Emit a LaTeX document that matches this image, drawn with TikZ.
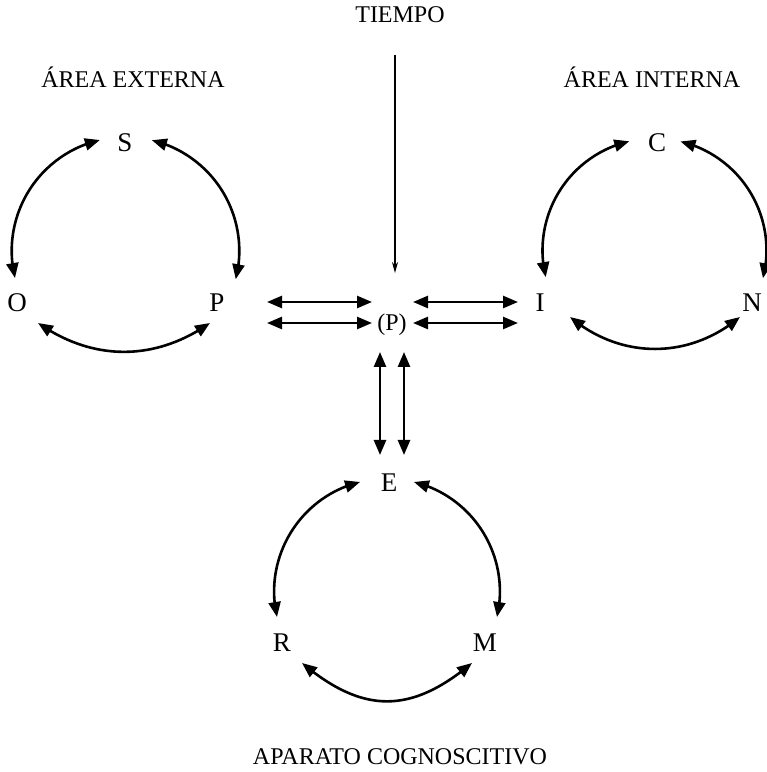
\documentclass[tikz,border=0pt]{standalone}
\usepackage{fontspec}
\setmainfont{Liberation Serif}
\usetikzlibrary{arrows.meta,bending}
\begin{document}
\begin{tikzpicture}[x=1pt,y=1pt,
  lbl/.style={font=\fontsize{24}{28}\selectfont, anchor=base, inner sep=0pt},
  ltr/.style={font=\fontsize{27}{31}\selectfont, inner sep=0pt},
  arr/.style={line width=2.6pt, {Triangle[length=15pt,width=12pt]}-{Triangle[length=15pt,width=12pt]}},
  tarr/.style={line width=1.5pt, -{Stealth[length=11pt,width=6pt]}}]
\useasboundingbox (0,0) rectangle (767,772);
% labels
\node[lbl] (tiempo) at (400,749) {TIEMPO};
\node[lbl] (ext) at (133,684) {ÁREA EXTERNA};
\node[lbl] (int) at (652,684) {ÁREA INTERNA};
\node[lbl] (apa) at (400,7) {APARATO COGNOSCITIVO};
% letters
\node[ltr] (S) at (125,629) {S};
\node[ltr] (O) at (17,469) {O};
\node[ltr] (P) at (217,469) {P};
\node[ltr] (C) at (657,629.5) {C};
\node[ltr] (I) at (540,469) {I};
\node[ltr] (N) at (752,469) {N};
\node[ltr] (E) at (389,289) {E};
\node[ltr] (R) at (282,129.5) {R};
\node[ltr] (M) at (485,129.5) {M};
\node[font=\fontsize{24}{28}\selectfont, anchor=base, inner sep=0pt] (Pc) at (392,441) {(P)};
% circle centres
\coordinate (cL) at (125.5,521.1);
\coordinate (cR) at (654.5,521.6);
\coordinate (cB) at (387,180.4);
% TIEMPO arrow
\coordinate (t1) at (395,717);
\coordinate (t2) at (395,499);
\draw[tarr] (t1) -- (t2);
% horizontal arrows
\coordinate (hl1a) at (267,470); \coordinate (hl1b) at (372,470);
\coordinate (hl2a) at (267,449); \coordinate (hl2b) at (372,449);
\coordinate (hr1a) at (413,470); \coordinate (hr1b) at (518,470);
\coordinate (hr2a) at (413,449); \coordinate (hr2b) at (518,449);
\draw[arr] (hl1a) -- (hl1b);
\draw[arr] (hl2a) -- (hl2b);
\draw[arr] (hr1a) -- (hr1b);
\draw[arr] (hr2a) -- (hr2b);
% vertical arrows
\coordinate (v1a) at (380,420); \coordinate (v1b) at (380,317);
\coordinate (v2a) at (404,420); \coordinate (v2b) at (404,317);
\draw[arr] (v1a) -- (v1b);
\draw[arr] (v2a) -- (v2b);
% left cluster
\draw[arr] (cL) ++(193.8:113.8) arc[start angle=193.8, end angle=103, radius=113.8];
\draw[arr] (cL) ++(-14.4:113.8) arc[start angle=-14.4, end angle=76.6, radius=113.8];
\coordinate (op1) at (38,449); \coordinate (op2) at (210,449);
\draw[arr] (op1) to[out=-35,in=215] (op2);
% right cluster
\draw[arr] (cR) ++(193.8:112) arc[start angle=193.8, end angle=103, radius=112];
\draw[arr] (cR) ++(-14.4:112) arc[start angle=-14.4, end angle=76.6, radius=112];
\coordinate (in1) at (570,455); \coordinate (in2) at (740,455);
\draw[arr] (in1) to[out=-40,in=220] (in2);
% bottom cluster
\draw[arr] (cB) ++(193:112.9) arc[start angle=193, end angle=103.8, radius=112.9];
\draw[arr] (cB) ++(-13:112.9) arc[start angle=-13, end angle=76.2, radius=112.9];
\coordinate (rm1) at (302,109); \coordinate (rm2) at (472,109);
\draw[arr] (rm1) to[out=-40,in=220,looseness=1.2] (rm2);
\end{tikzpicture}
\end{document}
